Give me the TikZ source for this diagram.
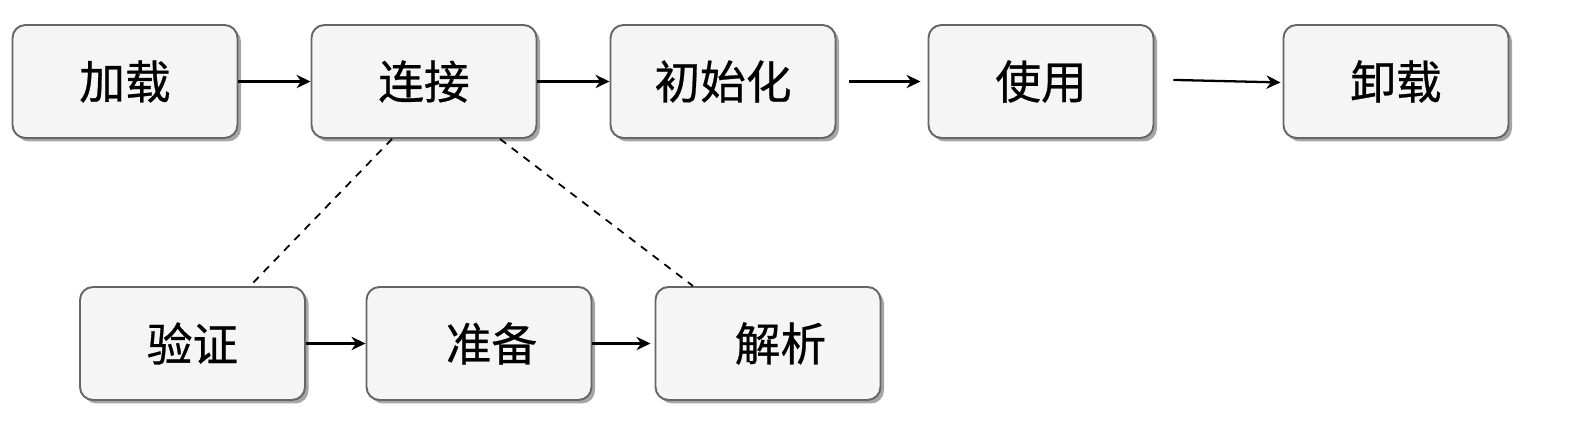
\documentclass[tikz,border=0pt]{standalone}
\usepackage{xcolor}
\usepackage{fontspec}
\usepackage{tikz}
\usetikzlibrary{arrows.meta,shadows}
\setmainfont{Noto Sans CJK SC}[AutoFakeBold=0.6]
\definecolor{boxfill}{RGB}{245,245,245}
\definecolor{boxline}{RGB}{102,102,102}

\begin{document}
\begin{tikzpicture}[
    stage/.style={draw=boxline, fill=boxfill, line width=0.55pt, rounded corners=0.13cm,
        minimum width=2.25cm, minimum height=1.13cm,
        drop shadow={shadow xshift=0.035cm, shadow yshift=-0.035cm, fill=black!35, opacity=1},
        font=\fontsize{13}{16}\selectfont\bfseries},
    flow/.style={-{Stealth[length=4pt,width=3.8pt]}, line width=0.65pt},
    sub/.style={dashed, line width=0.5pt, dash pattern=on 2.2pt off 2pt}
]
            \useasboundingbox (0,0) rectangle (15.72,-4.37);
            % main stages
            \node[stage] (load) at (1.25,-0.815) {加载};
            \node[stage] (link) at (4.24,-0.815) {连接};
            \node[stage] (init) at (7.23,-0.815) {初始化};
            \node[stage] (use) at (10.41,-0.815) {使用};
            \node[stage] (unload) at (13.96,-0.815) {卸载};
            % link sub-stages
            \node[stage] (verify) at (1.925,-3.435) {验证};
            \node[stage] (prepare) at (4.79,-3.435) {\hspace{0.25cm}准备};
            \node[stage] (resolve) at (7.68,-3.435) {\hspace{0.25cm}解析};
            \draw[flow] (load) -- (link);
            \draw[flow] (link) -- (init);
            \draw[flow, shorten <=0.13cm, shorten >=0.07cm] (init) -- (use);
            \draw[flow, shorten <=0.19cm, shorten >=0.02cm] ([yshift=0.02cm]use.east) -- ([yshift=-0.01cm]unload.west);
            \draw[flow] (verify) -- (prepare);
            \draw[flow, shorten >=0.04cm] (prepare) -- (resolve);
            \draw[sub] ([xshift=-0.32cm]link.south) -- ([xshift=0.575cm]verify.north);
            \draw[sub] ([xshift=0.76cm]link.south) -- ([xshift=-0.75cm]resolve.north);
        \end{tikzpicture}
\end{document}
